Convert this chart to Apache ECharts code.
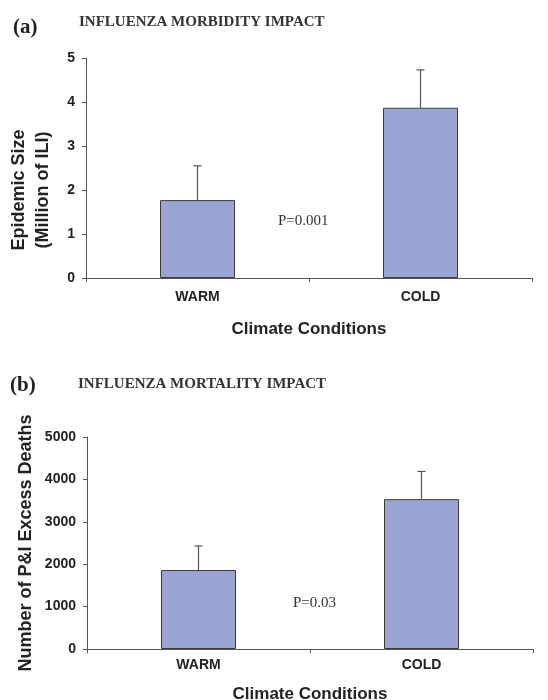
<!DOCTYPE html>
<html><head><meta charset="utf-8">
<script src="https://cdn.jsdelivr.net/npm/echarts@6/dist/echarts.min.js"></script>
<style>html,body{margin:0;padding:0;background:#fff}#c{width:548px;height:700px}</style>
</head><body><div id="c"></div>
<script>
// Data
const categories = ['WARM', 'COLD'];
const morbidityMean = [1.77, 3.87];      // million ILI
const morbidityUpper = [2.55, 4.73];     // mean + error
const mortalityMean = [1862, 3534];      // P&I excess deaths
const mortalityUpper = [2430, 4188];
const morbidityTicks = [0, 1, 2, 3, 4, 5];
const mortalityTicks = [0, 1000, 2000, 3000, 4000, 5000];
const pTextA = 'P=0.001';
const pTextB = 'P=0.03';

const SANS = '"Liberation Sans", Arial, sans-serif';
const SERIF = '"Liberation Serif", "Times New Roman", serif';
const barColor = '#9aa5d3';
const axisColor = '#555';

const chart = echarts.init(document.getElementById('c'), null, {renderer: 'canvas'});

function errItem(params, api) {
  const x = api.value(0), hi = api.value(2), base = api.value(1);
  const p0 = api.coord([x, base]);
  const p1 = api.coord([x, hi]);
  const cap = 4;
  const st = {stroke: '#555', lineWidth: 1.2};
  return {type: 'group', children: [
    {type: 'line', shape: {x1: p0[0], y1: p0[1], x2: p1[0], y2: p1[1]}, style: st},
    {type: 'line', shape: {x1: p1[0] - cap, y1: p1[1], x2: p1[0] + cap, y2: p1[1]}, style: st}
  ]};
}

function xAx(gi, labelMargin, nameGap) {
  return {
    type: 'category', gridIndex: gi, data: categories,
    axisLine: {lineStyle: {color: axisColor, width: 1}},
    axisTick: {show: true, alignWithLabel: false, length: 4, lineStyle: {color: axisColor}},
    axisLabel: {margin: labelMargin, fontFamily: SANS, fontWeight: 'bold', fontSize: 14, color: '#222'},
    name: 'Climate Conditions', nameLocation: 'middle', nameGap: nameGap, nameMoveOverlap: false,
    nameTextStyle: {fontFamily: SANS, fontWeight: 'bold', fontSize: 17, color: '#222'}
  };
}
function yAx(gi, ticks, name, nameGap, pad) {
  return {
    type: 'value', gridIndex: gi, min: ticks[0], max: ticks[ticks.length - 1],
    interval: ticks[1] - ticks[0],
    axisLine: {show: true, lineStyle: {color: axisColor, width: 1}},
    axisTick: {show: true, length: 4, lineStyle: {color: axisColor}},
    splitLine: {show: false},
    axisLabel: {margin: 11, fontFamily: SANS, fontWeight: 'bold', fontSize: 14, color: '#222',
                formatter: v => String(v)},
    name: name, nameLocation: 'middle', nameGap: nameGap, nameRotate: 90, nameMoveOverlap: false,
    nameTextStyle: {fontFamily: SANS, fontWeight: 'bold', fontSize: 18, color: '#222', lineHeight: 24,
                    align: 'center', padding: pad}
  };
}

chart.setOption({
  animation: false,
  title: [
    {text: '(a)', left: 13, top: 17, padding: 0, textStyle: {fontFamily: SERIF, fontWeight: 'bold', fontSize: 21, color: '#222'}},
    {text: 'INFLUENZA MORBIDITY IMPACT', left: 79, top: 15, padding: 0, textStyle: {fontFamily: SERIF, fontWeight: 'bold', fontSize: 15, color: '#333'}},
    {text: '(b)', left: 10, top: 375, padding: 0, textStyle: {fontFamily: SERIF, fontWeight: 'bold', fontSize: 21, color: '#222'}},
    {text: 'INFLUENZA MORTALITY IMPACT', left: 78, top: 377, padding: 0, textStyle: {fontFamily: SERIF, fontWeight: 'bold', fontSize: 15, color: '#333'}}
  ],
  grid: [
    {left: 86, width: 446, top: 58, height: 220, outerBoundsMode: 'none', containLabel: false},
    {left: 87, width: 446, top: 437, height: 212, outerBoundsMode: 'none', containLabel: false}
  ],
  xAxis: [xAx(0, 12, 43), xAx(1, 9, 37)],
  yAxis: [
    yAx(0, morbidityTicks, 'Epidemic Size\n(Million of ILI)', 31, [0, 44, 0, 0]),
    yAx(1, mortalityTicks, 'Number of P&I Excess Deaths', 49, 0)
  ],
  series: [
    {type: 'bar', xAxisIndex: 0, yAxisIndex: 0, data: morbidityMean, barWidth: 75,
     itemStyle: {color: barColor, borderColor: '#3a3a3a', borderWidth: 1}, z: 2},
    {type: 'custom', xAxisIndex: 0, yAxisIndex: 0, renderItem: errItem,
     data: categories.map((c, i) => [i, morbidityMean[i], morbidityUpper[i]]), z: 1},
    {type: 'bar', xAxisIndex: 1, yAxisIndex: 1, data: mortalityMean, barWidth: 75,
     itemStyle: {color: barColor, borderColor: '#3a3a3a', borderWidth: 1}, z: 2},
    {type: 'custom', xAxisIndex: 1, yAxisIndex: 1, renderItem: errItem,
     data: categories.map((c, i) => [i, mortalityMean[i], mortalityUpper[i]]), z: 1}
  ],
  graphic: [
    {type: 'text', left: 278, top: 214, style: {text: pTextA, font: '15px ' + SERIF, fill: '#333'}},
    {type: 'text', left: 293, top: 596, style: {text: pTextB, font: '15px ' + SERIF, fill: '#333'}}
  ]
});
</script></body></html>
